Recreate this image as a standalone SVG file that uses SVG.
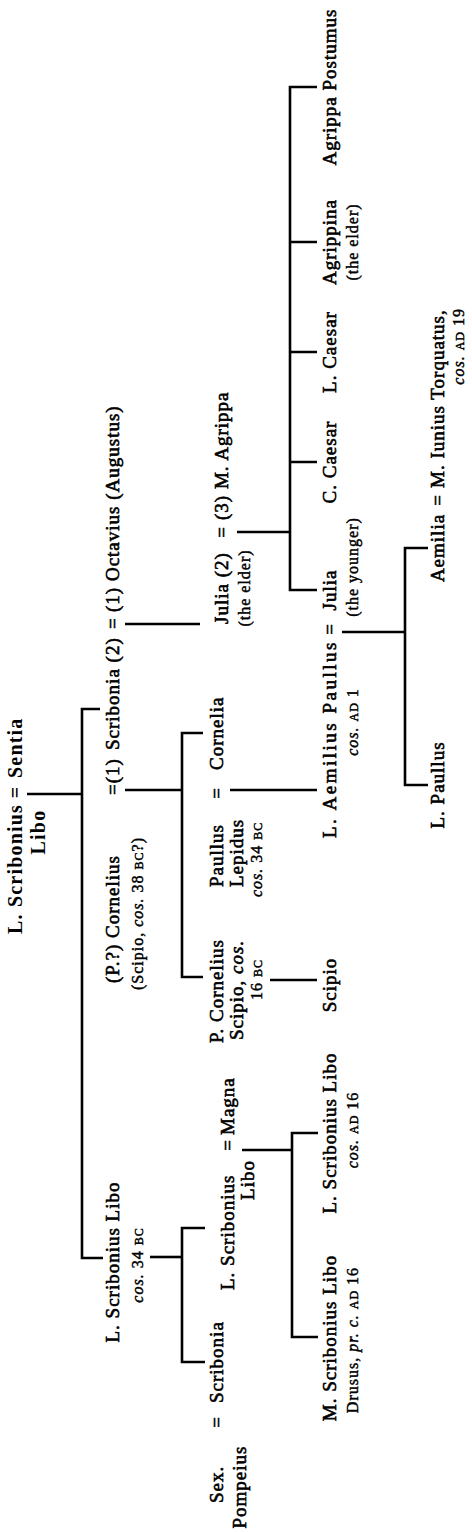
<svg xmlns="http://www.w3.org/2000/svg" width="472" height="1532" viewBox="0 0 472 1532">
<style>
text { font-family: "Liberation Serif", "Times New Roman", serif; fill: #000; }
.n { font-size: 19px; stroke: #000; stroke-width: 0.6; letter-spacing: 1px; }
.b { font-size: 20px; font-weight: bold; letter-spacing: 1.2px; }
.s { font-size: 16px; stroke: #000; stroke-width: 0.45; letter-spacing: 1px; }
.i { font-style: italic; }
.sc { font-size: 12px; }
.c { text-anchor: middle; }
.e { text-anchor: end; }
.ln { fill: none; stroke: #000; stroke-width: 2.6; }
</style>
<rect width="472" height="1532" fill="#fff"/>
<g transform="translate(0,1532) rotate(-90)">
  <g id="connectors" class="ln">
    <path d="M738 27 V82"/>
    <path d="M274 103 V82 H823 V100"/>
    <path d="M742 125 V182"/>
    <path d="M555 203 V182 H799 V203"/>
    <path d="M908 125 V200"/>
    <path d="M275 150 V182"/>
    <path d="M170 205 V182 H304 V205"/>
    <path d="M742 230 V317"/>
    <path d="M552 270 V317"/>
    <path d="M1000 237 V290"/>
    <path d="M942 317 V290 H1445 V317"/>
    <path d="M1290 290 V317 M1180 290 V317 M1070 290 V317"/>
    <path d="M382 242 V292"/>
    <path d="M195 318 V292 H399 V318"/>
    <path d="M900 342 V405"/>
    <path d="M747 428 V405 H984 V428"/>
  </g>
  <g id="root">
    <text class="b" x="598" y="22">L. Scribonius</text>
    <text class="b c" x="740" y="22">=</text>
    <text class="b" x="754" y="22">Sentia</text>
    <text class="b c" x="700" y="45">Libo</text>
  </g>
  <g id="scribonia">
    <text class="n" y="119"><tspan x="549">(P.?) Cornelius</tspan><tspan x="737">=(1)</tspan><tspan x="782">Scribonia (2)</tspan><tspan x="903">=</tspan><tspan x="920">(1) Octavius (Augustus)</tspan></text>
    <text class="s" x="542" y="143">(Scipio, <tspan class="i">cos.</tspan> 38 <tspan class="sc">BC</tspan>?)</text>
  </g>
  <g id="libo34">
    <text class="n c" x="270" y="119">L. Scribonius Libo</text>
    <text class="s c" x="267" y="143"><tspan class="i">cos.</tspan> 34 <tspan class="sc">BC</tspan></text>
  </g>
  <g id="cornelia">
    <text class="n" x="645" y="223">Paullus</text>
    <text class="n c" x="739" y="223">=</text>
    <text class="n" x="762" y="223">Cornelia</text>
    <text class="n" x="645" y="243">Lepidus</text>
    <text class="s" x="635" y="262"><tspan class="i">cos.</tspan> 34 <tspan class="sc">BC</tspan></text>
  </g>
  <g id="pcornelius">
    <text class="n" x="489" y="223">P. Cornelius</text>
    <text class="n" x="492" y="243">Scipio, <tspan class="i">cos.</tspan></text>
    <text class="s" x="532" y="262">16 <tspan class="sc">BC</tspan></text>
  </g>
  <g id="julia-elder">
    <text class="n" x="908" y="228">Julia (2)</text>
    <text class="n c" x="1000" y="228">=</text>
    <text class="n" x="1012" y="228">(3) M. Agrippa</text>
    <text class="s c" x="944" y="250">(the elder)</text>
  </g>
  <g id="lscribonius-magna">
    <text class="n" x="242" y="234">L. Scribonius</text>
    <text class="n c" x="387" y="234">=</text>
    <text class="n" x="397" y="234">Magna</text>
    <text class="n c" x="352" y="254">Libo</text>
  </g>
  <g id="sex-scribonia">
    <text class="n" x="29" y="223">Sex.</text>
    <text class="n c" x="110" y="223">=</text>
    <text class="n" x="129" y="223">Scribonia</text>
    <text class="n c" x="45" y="246">Pompeius</text>
  </g>
  <g id="agrippa-postumus"><text class="n c" x="1445" y="336">Agrippa Postumus</text></g>
  <g id="agrippina">
    <text class="n c" x="1290" y="336">Agrippina</text>
    <text class="s c" x="1290" y="358">(the elder)</text>
  </g>
  <g id="lcaesar"><text class="n c" x="1180" y="336">L. Caesar</text></g>
  <g id="ccaesar"><text class="n c" x="1070" y="336">C. Caesar</text></g>
  <g id="aemilius-julia">
    <text class="n" x="694" y="336" style="letter-spacing:2.5px">L. Aemilius Paullus</text>
    <text class="n c" x="903" y="336">=</text>
    <text class="n c" x="942" y="336">Julia</text>
    <text class="s c" x="810" y="358"><tspan class="i">cos.</tspan> <tspan class="sc">AD</tspan> 1</text>
    <text class="s c" x="965" y="358">(the younger)</text>
  </g>
  <g id="scipio"><text class="n c" x="547" y="336">Scipio</text></g>
  <g id="libo16">
    <text class="n c" x="399" y="336">L. Scribonius Libo</text>
    <text class="s c" x="402" y="358"><tspan class="i">cos.</tspan> <tspan class="sc">AD</tspan> 16</text>
  </g>
  <g id="drusus">
    <text class="n c" x="194" y="336">M. Scribonius Libo</text>
    <text class="s c" x="192" y="358">Drusus, <tspan class="i">pr. c.</tspan> <tspan class="sc">AD</tspan> 16</text>
  </g>
  <g id="lpaullus"><text class="n c" x="747" y="444">L. Paullus</text></g>
  <g id="aemilia">
    <text class="n c" x="984" y="444">Aemilia</text>
    <text class="n c" x="1032" y="444">=</text>
    <text class="n" x="1044" y="444">M. Iunius Torquatus,</text>
    <text class="s e" x="1224" y="464"><tspan class="i">cos.</tspan> <tspan class="sc">AD</tspan> 19</text>
  </g>
</g>
</svg>
